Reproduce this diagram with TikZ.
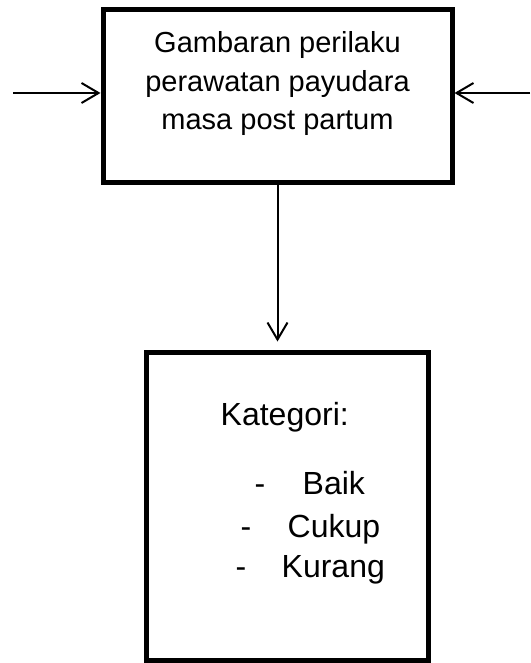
\documentclass[tikz,border=0pt]{standalone}
\usepackage{fontspec}
\setmainfont{Liberation Sans}
\usetikzlibrary{arrows.meta}
\tikzset{
  box/.style={draw=black, line width=5pt, fill=white, inner sep=0pt},
  arr/.style={line width=2pt, -{Straight Barb[length=17pt,width=20pt,line width=2pt]}},
  ttext/.style={anchor=base, inner sep=0pt, font=\fontsize{29}{35}\selectfont},
  btext/.style={anchor=base west, inner sep=0pt, font=\fontsize{32}{38}\selectfont},
  dashtext/.style={anchor=base, inner sep=0pt, font=\fontsize{32}{38}\selectfont}
}
\begin{document}
\begin{tikzpicture}[x=1pt, y=-1pt]
\useasboundingbox (0,0) rectangle (530,663);
\node[box, minimum width=349pt, minimum height=172pt] (top) at (277.5,96) {};
\node[box, minimum width=282pt, minimum height=308pt] (bot) at (287,506) {};
\node[ttext] (t1) at (277.5,53) {Gambaran perilaku};
\node[ttext] (t2) at (277.5,92) {perawatan payudara};
\node[ttext] (t3) at (277.5,130) {masa post partum};
\node[btext] (k) at (220.5,425) {Kategori:};
\node[dashtext] (d1) at (260,494) {-};
\node[btext] (i1) at (302.5,494) {Baik};
\node[dashtext] (d2) at (246,537) {-};
\node[btext] (i2) at (287.5,537) {Cukup};
\node[dashtext] (d3) at (241,577) {-};
\node[btext] (i3) at (281.5,577) {Kurang};
\coordinate (lin) at (13,93);
\coordinate (rin) at (530,93);
\draw[arr] (lin) -- (lin -| top.west);
\draw[arr] (rin) -- (rin -| top.east);
\draw[arr, shorten >=8pt] (top.south) -- (top.south |- bot.north);
\end{tikzpicture}
\end{document}
